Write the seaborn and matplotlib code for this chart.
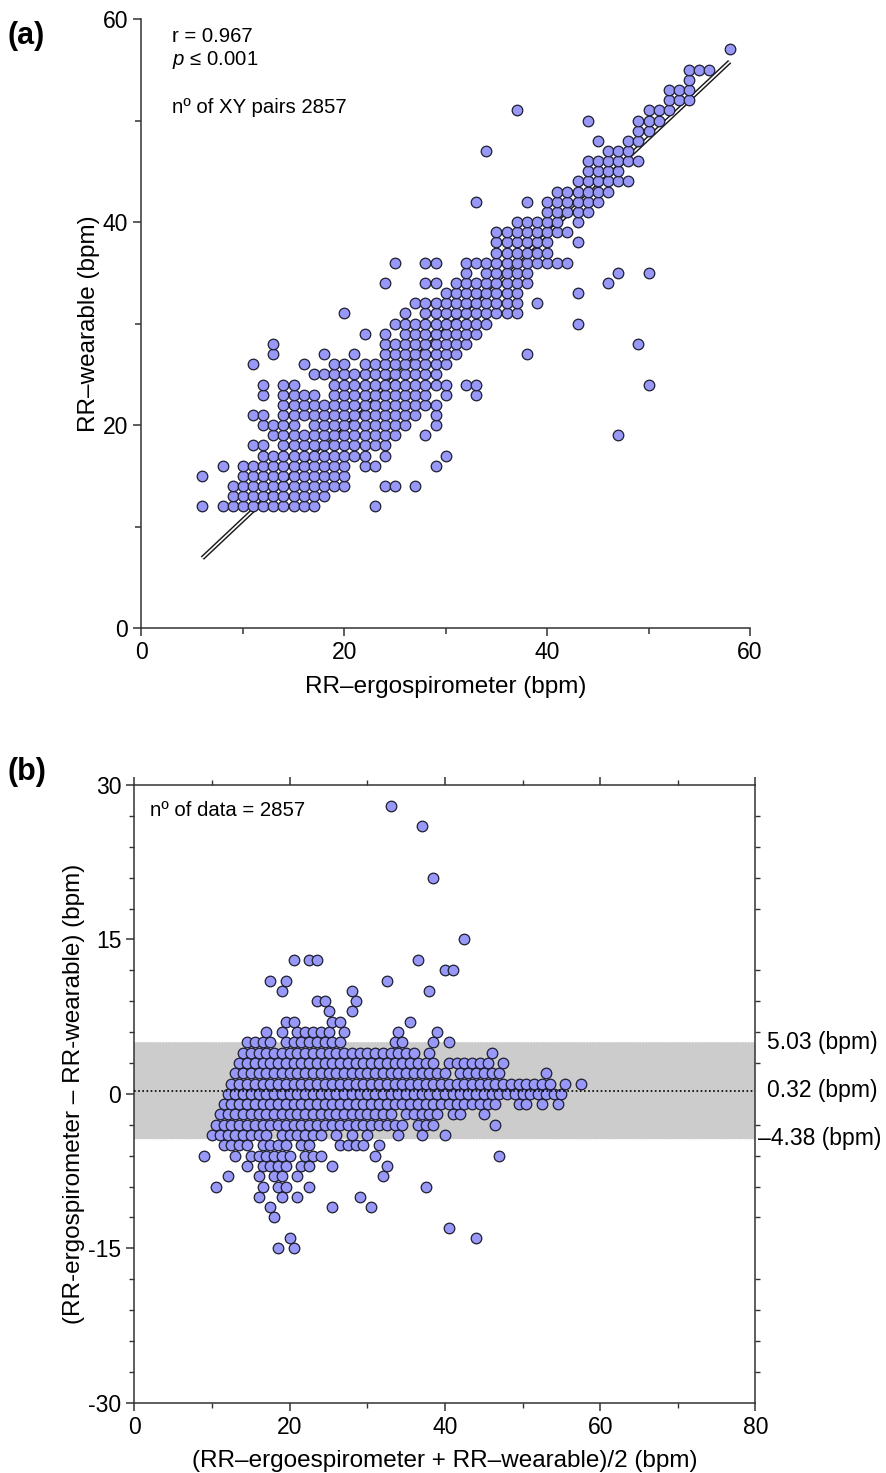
import numpy as np
import pandas as pd
import matplotlib
matplotlib.use('Agg')
import matplotlib.pyplot as plt
import seaborn as sns
from matplotlib.ticker import MultipleLocator

# panel (a): each run is one row of adjacent dots
# (RR-wearable value, first and last RR-ergospirometer value of the run)
run_y = [12, 12, 12, 13, 14, 14, 14, 15, 15, 16, 16, 16, 16, 17, 17, 17,
         18, 18, 19, 19, 19, 20, 20, 20, 21, 21, 21, 22, 23, 23, 23, 23, 23,
         24, 24, 24, 24, 24, 25, 26, 26, 26, 26, 27, 27, 27, 27, 27, 28, 28, 28,
         29, 29, 29, 30, 30, 31, 31, 31, 32, 32, 33, 33, 34, 34, 34, 34,
         35, 35, 35, 35, 36, 36, 36, 37, 38, 38, 39, 40, 40, 41, 42, 42, 42,
         43, 44, 45, 46, 47, 47, 48, 48, 49, 50, 50, 51, 51, 52, 53, 54, 55, 57]
run_x0 = [6, 8, 23, 9, 9, 24, 27, 6, 10, 8, 10, 22, 29, 12, 24, 30,
          11, 14, 13, 28, 47, 12, 17, 29, 11, 14, 29, 14, 12, 14, 19, 30, 33,
          12, 14, 19, 32, 50, 17, 11, 16, 19, 22, 13, 18, 21, 24, 38, 13, 24, 49,
          22, 24, 26, 25, 43, 20, 26, 28, 27, 39, 30, 43, 24, 28, 31, 46,
          32, 34, 47, 50, 25, 28, 32, 35, 35, 43, 35, 37, 43, 40, 33, 38, 40,
          41, 43, 44, 44, 34, 46, 45, 48, 49, 44, 49, 37, 50, 52, 52, 54, 54, 58]
run_x1 = [6, 17, 23, 18, 20, 25, 27, 6, 20, 8, 20, 23, 29, 22, 24, 30,
          12, 24, 25, 28, 47, 15, 26, 29, 12, 27, 29, 29, 12, 17, 28, 30, 33,
          12, 15, 30, 33, 50, 29, 11, 16, 20, 30, 13, 18, 21, 31, 38, 13, 32, 49,
          22, 24, 33, 34, 43, 20, 26, 37, 37, 39, 37, 43, 24, 29, 38, 46,
          32, 38, 47, 50, 25, 29, 42, 40, 40, 43, 42, 41, 43, 44, 33, 38, 45,
          46, 48, 47, 49, 34, 48, 45, 49, 50, 44, 51, 37, 52, 54, 54, 54, 56, 58]

# regression line end points (a)
reg_x = [6, 58]
reg_y = [6.9, 55.8]

# Bland-Altman values (b)
bias = 0.32
loa_upper = 5.03
loa_lower = -4.38

ergo, wear = [], []
for yy, a, b in zip(run_y, run_x0, run_x1):
    for xx in range(a, b + 1):
        ergo.append(xx)
        wear.append(yy)
df = pd.DataFrame({'ergo': ergo, 'wear': wear})
df['mean'] = (df['ergo'] + df['wear']) / 2
df['diff'] = df['ergo'] - df['wear']

sns.set_style('ticks')
plt.rcParams['font.family'] = ['Liberation Sans', 'DejaVu Sans']
plt.rcParams['mathtext.fontset'] = 'custom'
plt.rcParams['mathtext.it'] = 'Liberation Sans:italic'
plt.rcParams['mathtext.rm'] = 'Liberation Sans'
plt.rcParams['axes.unicode_minus'] = False
plt.rcParams['text.color'] = 'black'
plt.rcParams['axes.labelcolor'] = 'black'
plt.rcParams['xtick.color'] = 'black'
plt.rcParams['ytick.color'] = 'black'

dot_fill = '#9898f8'
dot_edge = '#1e1e30'
tick_fs = 16.5
label_fs = 17.5
note_fs = 14.7

fig = plt.figure(figsize=(8.87, 14.73), dpi=100)

# ---------- (a) correlation ----------
ax = fig.add_axes([0.1595, 0.5735, 0.686, 0.4136])
ax.plot(reg_x, reg_y, color='#1a1a1a', lw=3.3, zorder=2, solid_capstyle='butt')
ax.plot(reg_x, reg_y, color='white', lw=1.2, zorder=2.1, solid_capstyle='butt')
sns.scatterplot(data=df, x='ergo', y='wear', ax=ax, s=58, color=dot_fill,
                edgecolor=dot_edge, linewidth=0.9, zorder=3, legend=False)
ax.set_xlim(0, 60)
ax.set_ylim(0, 60)
ax.xaxis.set_major_locator(MultipleLocator(20))
ax.xaxis.set_minor_locator(MultipleLocator(10))
ax.yaxis.set_major_locator(MultipleLocator(20))
ax.yaxis.set_minor_locator(MultipleLocator(10))
ax.tick_params(which='major', length=6, width=1.1, labelsize=tick_fs, color='#333333')
ax.tick_params(which='minor', length=4, width=1.1, color='#333333')
sns.despine(ax=ax)
for sp in ['left', 'bottom']:
    ax.spines[sp].set_linewidth(1.1)
    ax.spines[sp].set_color('#333333')
ax.set_xlabel('RR–ergospirometer (bpm)', fontsize=label_fs, labelpad=8)
ax.set_ylabel('RR–wearable (bpm)', fontsize=label_fs, labelpad=2)
ax.text(3.0, 58.3, 'r = 0.967', fontsize=note_fs, va='center')
ax.text(3.0, 56.0, r'$p$ ≤ 0.001', fontsize=note_fs, va='center')
ax.text(3.0, 51.3, 'nº of XY pairs 2857', fontsize=note_fs, va='center')

# ---------- (b) Bland-Altman ----------
bx = fig.add_axes([0.1516, 0.0477, 0.7001, 0.4194])
bx.axhspan(loa_lower, loa_upper, color='#cccccc', zorder=1, lw=0)
bx.axhline(loa_upper, color='#e8e8e8', lw=0.8, ls=':', zorder=1.5)
bx.axhline(loa_lower, color='#e8e8e8', lw=0.8, ls=':', zorder=1.5)
sns.scatterplot(data=df, x='mean', y='diff', ax=bx, s=58, color=dot_fill,
                edgecolor=dot_edge, linewidth=0.9, zorder=3, legend=False)
bx.axhline(bias, color='black', lw=1.2, ls=(0, (1, 1.5)), zorder=4)
bx.set_xlim(0, 80)
bx.set_ylim(-30, 30)
bx.xaxis.set_major_locator(MultipleLocator(20))
bx.xaxis.set_minor_locator(MultipleLocator(10))
bx.yaxis.set_major_locator(MultipleLocator(15))
bx.yaxis.set_minor_locator(MultipleLocator(3))
bx.tick_params(which='major', length=6, width=1.1, labelsize=tick_fs, color='#333333')
bx.tick_params(which='minor', length=3.5, width=1.0, color='#333333')
bx.tick_params(which='both', top=True, right=True, labeltop=False, labelright=False)
bx.tick_params(axis='y', which='major', right=False)
for sp in bx.spines.values():
    sp.set_linewidth(1.1)
    sp.set_color('#333333')
bx.set_xlabel('(RR–ergoespirometer + RR–wearable)/2 (bpm)', fontsize=label_fs, labelpad=8)
bx.set_ylabel('(RR-ergospirometer – RR-wearable) (bpm)', fontsize=label_fs, labelpad=2)
bx.text(2.0, 27.5, 'nº of data = 2857', fontsize=note_fs, va='center')
bx.text(81.5, loa_upper, '5.03 (bpm)', fontsize=tick_fs, va='center', clip_on=False)
bx.text(81.5, bias, '0.32 (bpm)', fontsize=tick_fs, va='center', clip_on=False)
bx.text(80.3, loa_lower, '–4.38 (bpm)', fontsize=tick_fs, va='center', clip_on=False)

fig.text(0.008, 1 - 36 / 1473, '(a)', fontsize=22, fontweight='bold', va='center')
fig.text(0.008, 1 - 772 / 1473, '(b)', fontsize=22, fontweight='bold', va='center')

fig.savefig('out.png', dpi=100)
